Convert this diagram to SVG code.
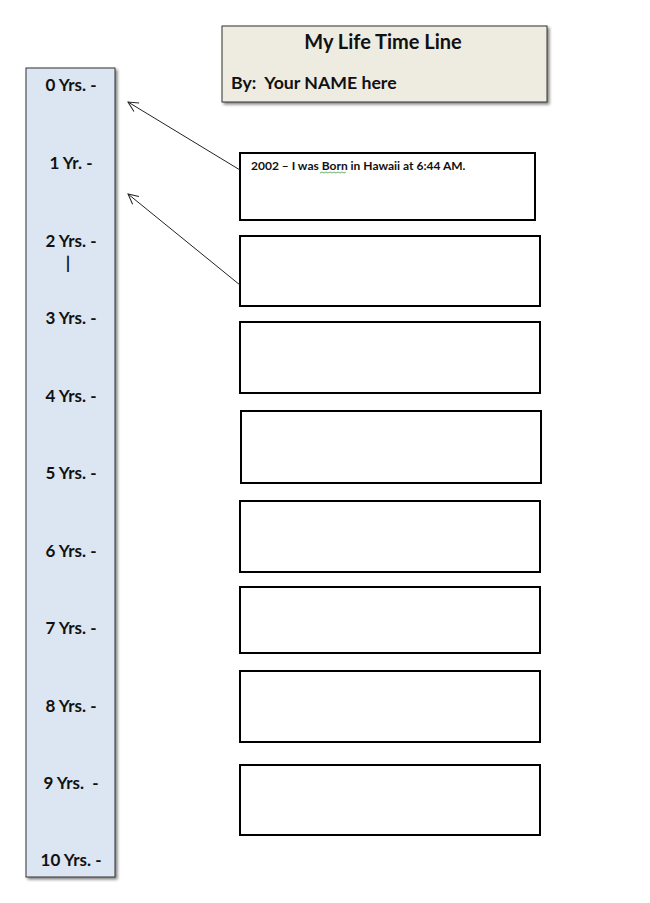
<svg xmlns="http://www.w3.org/2000/svg" width="650" height="903" viewBox="0 0 650 903">
<defs>
<style>
text{font-family:Lato,"Liberation Sans",Arial,sans-serif;font-weight:bold;fill:#111}
.yr{font-size:17px;text-anchor:middle}
.box{fill:#fff;stroke:#000;stroke-width:2}
.conn{stroke:#222;stroke-width:1;fill:none}
</style>
<marker id="arr" markerWidth="12" markerHeight="12" refX="11" refY="6" orient="auto" markerUnits="userSpaceOnUse">
<path d="M1,1 L11,6 L1,11" fill="none" stroke="#222" stroke-width="1"/>
</marker>
<filter id="sh" x="-10%" y="-10%" width="130%" height="130%">
<feGaussianBlur in="SourceAlpha" stdDeviation="1.5"/>
<feOffset dx="2" dy="2" result="b"/>
<feComponentTransfer><feFuncA type="linear" slope="0.5"/></feComponentTransfer>
<feMerge><feMergeNode/><feMergeNode in="SourceGraphic"/></feMerge>
</filter>
</defs>
<rect width="650" height="903" fill="#fff"/>
<g id="title">
<rect x="222" y="26" width="325" height="76" fill="#EEEBE1" stroke="#333" stroke-width="1" filter="url(#sh)"/>
<text x="383" y="49" font-size="20" text-anchor="middle">My Life Time Line</text>
<text x="231" y="89" font-size="17.7" xml:space="preserve">By:  Your NAME here</text>
</g>
<g id="timeline">
<rect x="26" y="68" width="89" height="809" fill="#DCE6F2" stroke="#333" stroke-width="1" filter="url(#sh)"/>
<text class="yr" x="71" y="91">0 Yrs. -</text>
<text class="yr" x="71" y="169">1 Yr. -</text>
<text class="yr" x="71" y="247">2 Yrs. -</text>
<text class="yr" x="68" y="269">|</text>
<text class="yr" x="71" y="324">3 Yrs. -</text>
<text class="yr" x="71" y="402">4 Yrs. -</text>
<text class="yr" x="71" y="479">5 Yrs. -</text>
<text class="yr" x="71" y="557">6 Yrs. -</text>
<text class="yr" x="71" y="634">7 Yrs. -</text>
<text class="yr" x="71" y="712">8 Yrs. -</text>
<text class="yr" x="71" y="789" xml:space="preserve">9 Yrs.  -</text>
<text class="yr" x="71" y="866">10 Yrs. -</text>
</g>
<g id="box1">
<rect class="box" x="240" y="153" width="295" height="67"/>
<text x="251" y="170" font-size="12">2002 – I was Born in Hawaii at 6:44 AM.</text>
<path d="M320,173 l2,-1 2,1 2,-1 2,1 2,-1 2,1 2,-1 2,1 2,-1 2,1 2,-1 2,1 2,-1" fill="none" stroke="#4a9a4a" stroke-width="0.8"/>
</g>
<g id="box2"><rect class="box" x="240" y="236" width="300" height="70"/></g>
<g id="box3"><rect class="box" x="240" y="322" width="300" height="71"/></g>
<g id="box4"><rect class="box" x="241" y="411" width="300" height="72"/></g>
<g id="box5"><rect class="box" x="240" y="501" width="300" height="71"/></g>
<g id="box6"><rect class="box" x="240" y="587" width="300" height="66"/></g>
<g id="box7"><rect class="box" x="240" y="671" width="300" height="71"/></g>
<g id="box8"><rect class="box" x="240" y="765" width="300" height="70"/></g>
<g id="connectors">
<line class="conn" x1="240" y1="170" x2="128" y2="102" marker-end="url(#arr)"/>
<line class="conn" x1="240" y1="285" x2="128" y2="194" marker-end="url(#arr)"/>
</g>
</svg>
